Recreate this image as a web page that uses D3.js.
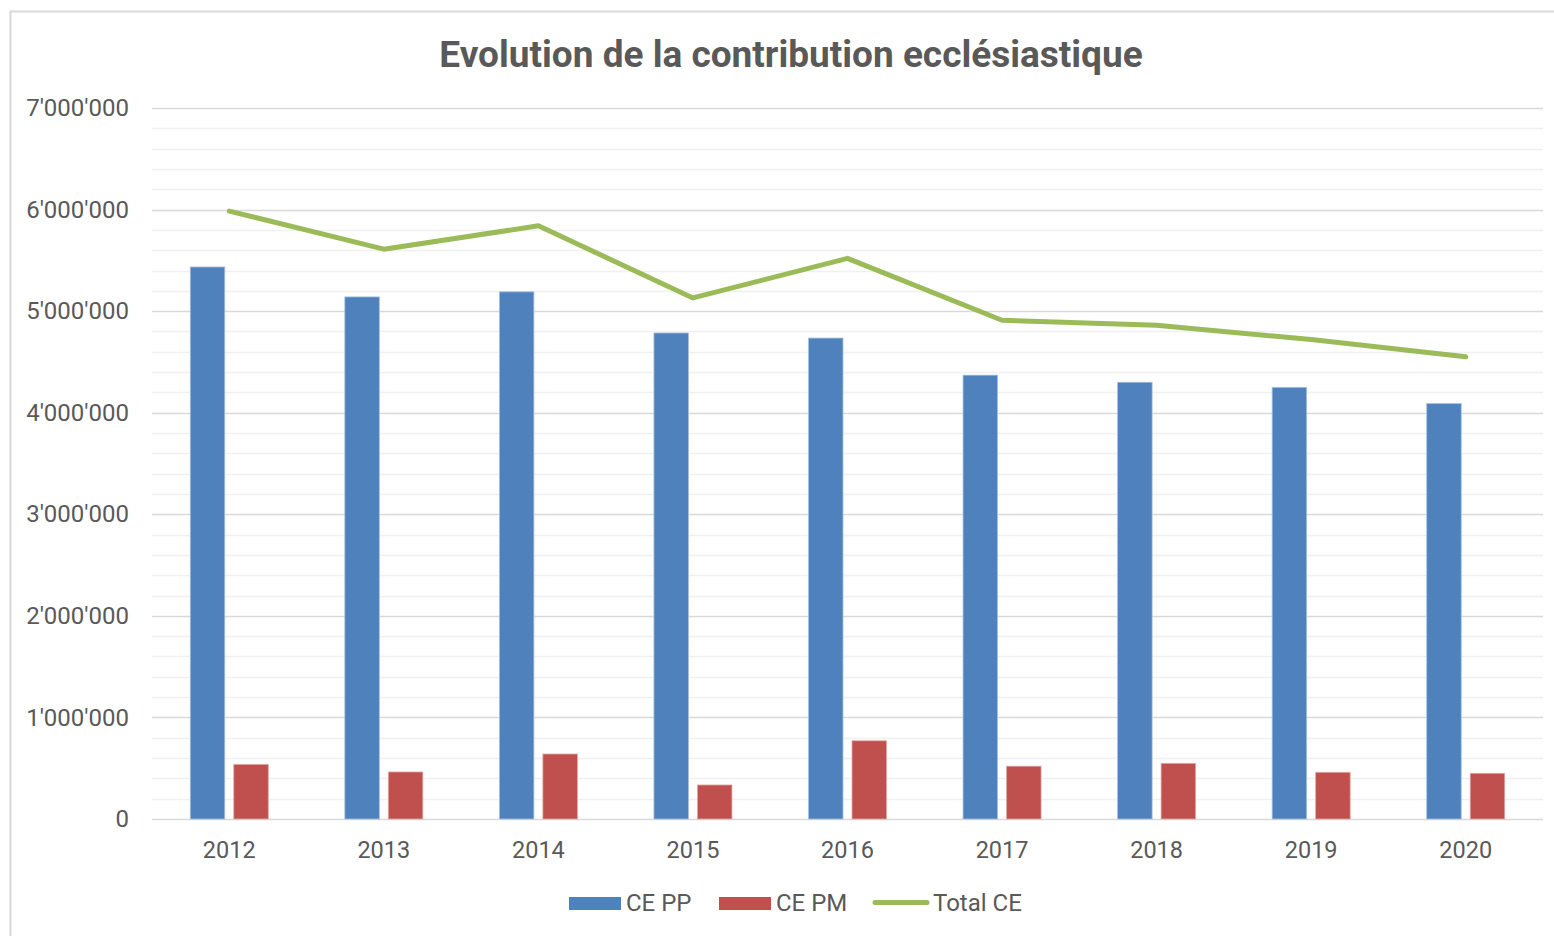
<!DOCTYPE html>
<html><head><meta charset="utf-8">
<script src="https://cdn.jsdelivr.net/npm/d3@7"></script>
<style>body{margin:0;background:#fff;font-family:Roboto,"Noto Sans",sans-serif;}</style>
</head><body><svg id="c" width="1554" height="936"></svg>
<script>
const years = ["2012","2013","2014","2015","2016","2017","2018","2019","2020"];
const cePP = [5435000,5140000,5190000,4785000,4735000,4370000,4300000,4250000,4090000];
const cePM = [538000,463000,640000,335000,770000,520000,548000,460000,450000];
const totalCE = [5985000,5610000,5840000,5130000,5520000,4910000,4860000,4720000,4550000];
const yTicks = [0,1000000,2000000,3000000,4000000,5000000,6000000,7000000];
const seriesNames = ["CE PP","CE PM","Total CE"];
const colors = ["#4f81bd","#c0504d","#9bbb59"];

const svg = d3.select("#c");
svg.append("rect").attr("x",10.5).attr("y",11.5).attr("width",1560).attr("height",940)
  .attr("fill","#fff").attr("stroke","#d9d9d9").attr("stroke-width",2);

const L=152,R=1543,T=108,B=819;
const x = d3.scaleBand().domain(years).range([L,R]);
const y = d3.scaleLinear().domain([0,7000000]).range([B,T]);

const minor = d3.range(200000,7000000,200000).filter(v=>v%1000000!==0);
svg.append("g").selectAll("line").data(minor).join("line")
  .attr("x1",L).attr("x2",R).attr("y1",d=>Math.round(y(d))+0.5).attr("y2",d=>Math.round(y(d))+0.5)
  .attr("stroke","#f0f0f0").attr("stroke-width",1.5);
svg.append("g").selectAll("line").data(yTicks).join("line")
  .attr("x1",L).attr("x2",R).attr("y1",d=>Math.round(y(d))+0.5).attr("y2",d=>Math.round(y(d))+0.5)
  .attr("stroke","#d9d9d9").attr("stroke-width",1.5);

const fmt = v => d3.format(",")(v).replace(/,/g,"'");
const yAxis = d3.axisLeft(y).tickValues(yTicks).tickFormat(fmt).tickSize(0).tickPadding(0);
const ga = svg.append("g").attr("transform",`translate(129,0)`).call(yAxis);
ga.select(".domain").remove();
ga.selectAll("text").attr("font-size",24).attr("fill","#595959").attr("font-family","Roboto");

const xAxis = d3.axisBottom(x).tickSize(0).tickPadding(0);
const gx = svg.append("g").attr("transform",`translate(0,${B+39})`).call(xAxis);
gx.select(".domain").remove();
gx.selectAll("text").attr("font-size",23.5).attr("fill","#595959").attr("font-family","Roboto").attr("dy","0");

const bw = 34.5, gap = 9;
svg.append("g").selectAll("rect").data(cePP).join("rect")
  .attr("x",(d,i)=>x(years[i])+x.bandwidth()/2-gap/2-bw).attr("width",bw)
  .attr("y",d=>y(d)).attr("height",d=>y(0)-y(d))
  .attr("fill",colors[0]).attr("stroke","#a7c0de").attr("stroke-width",0.8);
svg.append("g").selectAll("rect").data(cePM).join("rect")
  .attr("x",(d,i)=>x(years[i])+x.bandwidth()/2+gap/2).attr("width",bw)
  .attr("y",d=>y(d)).attr("height",d=>y(0)-y(d))
  .attr("fill",colors[1]).attr("stroke","#e0a8a6").attr("stroke-width",0.8);

const line = d3.line().x((d,i)=>x(years[i])+x.bandwidth()/2).y(d=>y(d));
svg.append("path").datum(totalCE).attr("d",line).attr("fill","none")
  .attr("stroke",colors[2]).attr("stroke-width",5).attr("stroke-linecap","round").attr("stroke-linejoin","round");

svg.append("text").attr("x",791).attr("y",67).attr("text-anchor","middle")
  .attr("font-size",37).attr("font-weight","bold").attr("fill","#595959").attr("font-family","Roboto")
  .text("Evolution de la contribution ecclésiastique");

const lg = svg.append("g");
const ly = 911;
lg.append("rect").attr("x",569).attr("y",897).attr("width",52).attr("height",13).attr("fill",colors[0]);
lg.append("text").attr("x",626).attr("y",ly).attr("font-size",24).attr("fill","#595959").text(seriesNames[0]);
lg.append("rect").attr("x",719).attr("y",897).attr("width",52).attr("height",13).attr("fill",colors[1]);
lg.append("text").attr("x",776).attr("y",ly).attr("font-size",24).attr("fill","#595959").text(seriesNames[1]);
lg.append("line").attr("x1",875).attr("x2",927).attr("y1",902.5).attr("y2",902.5)
  .attr("stroke",colors[2]).attr("stroke-width",5).attr("stroke-linecap","round");
lg.append("text").attr("x",933).attr("y",ly).attr("font-size",24).attr("fill","#595959").text(seriesNames[2]);
</script></body></html>
